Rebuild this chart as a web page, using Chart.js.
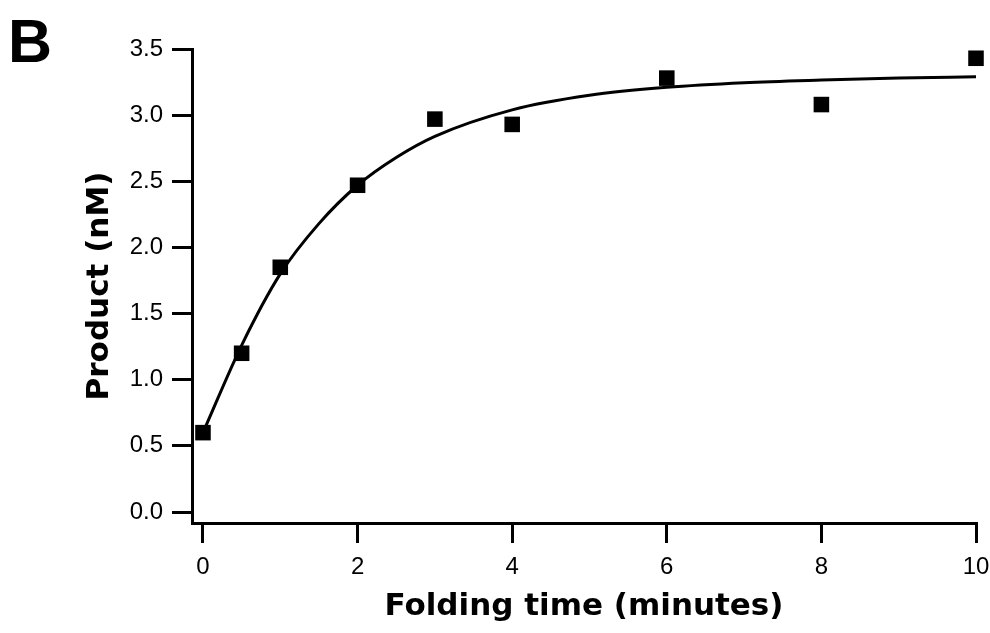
<!DOCTYPE html>
<html>
<head>
<meta charset="utf-8">
<script src="https://cdn.jsdelivr.net/npm/chart.js@4/dist/chart.umd.min.js"></script>
<style>
  html, body { margin: 0; padding: 0; background: #fff; }
  #wrap { width: 990px; height: 633px; position: relative; }
</style>
</head>
<body>
<div id="wrap"><canvas id="myChart"></canvas></div>
<script>
// Measured points
const timeMin = [0, 0.5, 1, 2, 3, 4, 6, 8, 10];
const productNM = [0.60, 1.20, 1.85, 2.47, 2.97, 2.93, 3.28, 3.08, 3.43];

// Fitted curve
const curveTime = [0, 0.5, 1, 1.5, 2, 2.5, 3, 4, 5, 6, 7, 8, 9, 10];
const curveProduct = [0.60, 1.26, 1.80, 2.18, 2.47, 2.68, 2.84, 3.04, 3.15, 3.21, 3.245, 3.265, 3.28, 3.29];

const xTicks = [0, 2, 4, 6, 8, 10];
const yTicks = [0, 0.5, 1, 1.5, 2, 2.5, 3, 3.5];

const panelLabel = 'B';
const xTitle = 'Folding time (minutes)';
const yTitle = 'Product (nM)';

const ink = '#000';
const tickFont = { family: '"Liberation Sans", Arial, sans-serif', size: 24 };
const titleFont = { family: '"DejaVu Sans", sans-serif', size: 31, weight: 'bold' };

const points = timeMin.map((t, i) => ({ x: t, y: productNM[i] }));
const curve = curveTime.map((t, i) => ({ x: t, y: curveProduct[i] }));

// draws the panel letter in the corner
const panelPlugin = {
	id: 'panelLetter',
	afterDraw(chart) {
		const ctx = chart.ctx;
		ctx.save();
		ctx.fillStyle = ink;
		ctx.font = 'bold 61px "Liberation Sans"';
		ctx.textBaseline = 'alphabetic';
		ctx.fillText(panelLabel, 8, 62);
		ctx.restore();
	}
};

let chart = new Chart('myChart', {
	type: 'scatter',
	data: {
		datasets: [{
			label: 'Product',
			data: points,
			pointStyle: 'rect',
			pointRadius: 11,
			pointHoverRadius: 11,
			backgroundColor: ink,
			borderColor: ink,
			borderWidth: 0,
			showLine: false,
			clip: false
		}, {
			label: 'Fit',
			data: curve,
			showLine: true,
			borderColor: ink,
			borderWidth: 3,
			pointRadius: 0,
			fill: false,
			clip: false,
			cubicInterpolationMode: 'monotone'
		}]
	},
	options: {
		responsive: true,
		maintainAspectRatio: false,
		animation: false,
		layout: {
			padding: { top: 49, right: 14, left: 0, bottom: 0 }
		},
		scales: {
			x: {
				type: 'linear',
				min: -0.142,
				max: 10,
				afterBuildTicks: (scale) => { scale.ticks = xTicks.map(v => ({ value: v })); },
				afterFit: (scale) => {
					scale.height = 110;
					scale.paddingLeft = 0;
					scale.paddingRight = 12;
				},
				grid: {
					drawOnChartArea: false,
					drawTicks: true,
					tickLength: 20,
					lineWidth: 3,
					color: ink
				},
				border: { display: true, color: ink, width: 3 },
				ticks: {
					color: ink,
					font: tickFont,
					padding: 10,
					maxRotation: 0,
					autoSkip: false,
					callback: (v) => String(v)
				},
				title: {
					display: true,
					text: xTitle,
					color: ink,
					font: titleFont,
					padding: { top: 0, bottom: 7 }
				}
			},
			y: {
				type: 'linear',
				min: -0.083,
				max: 3.5,
				afterBuildTicks: (scale) => { scale.ticks = yTicks.map(v => ({ value: v })); },
				afterFit: (scale) => { scale.width = 192; },
				grid: {
					drawOnChartArea: false,
					drawTicks: true,
					tickLength: 20,
					lineWidth: 3,
					color: ink
				},
				border: { display: true, color: ink, width: 3 },
				ticks: {
					color: ink,
					font: tickFont,
					padding: 9,
					autoSkip: false,
					callback: (v) => Number(v).toFixed(1)
				},
				title: {
					display: true,
					text: yTitle,
					color: ink,
					font: titleFont,
					padding: { top: 81, bottom: 0 }
				}
			}
		},
		plugins: {
			legend: { display: false },
			tooltip: { enabled: false },
			title: { display: false }
		}
	},
	plugins: [panelPlugin]
});
</script>
</body>
</html>
